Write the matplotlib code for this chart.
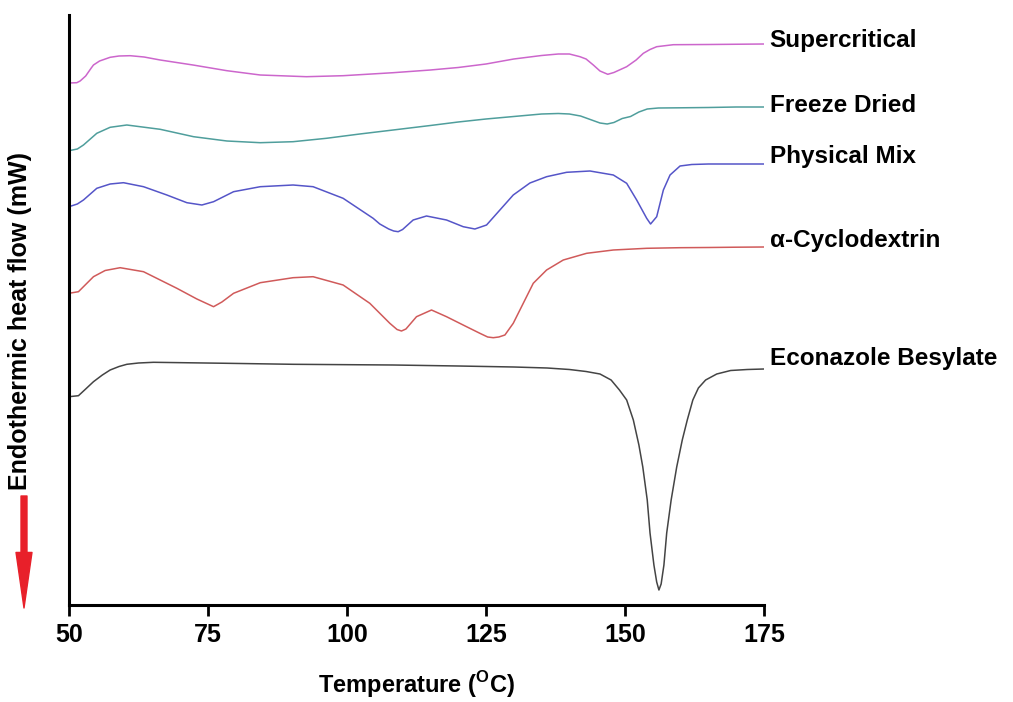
"""DSC thermograms of econazole besylate, alpha-cyclodextrin and their complexes."""
import matplotlib

matplotlib.use("Agg")
import matplotlib.pyplot as plt
from matplotlib import font_manager

# temperature (degC) / heat flow (arbitrary units, curves stacked with offsets)
t_sc = [50, 51.4, 52, 53, 54, 54.4, 55.5, 57.4, 59, 61, 63.5, 66.4, 72.3, 78.4, 84.4, 92.7,
        99.3, 108.3, 115, 120, 125, 130, 135, 138, 140, 141.9, 143, 144.3, 145.5, 146.9, 148,
        150.3, 152, 153.3, 154.5, 155.7, 158.7, 165, 175]
hf_sc = [522, 522.3, 524, 529, 537, 540, 544, 547.7, 549, 549.3, 548, 545, 540, 534.3, 530,
         528.3, 529.3, 532.3, 535, 537.5, 541, 546, 549.5, 551, 551, 548.3, 546, 540, 534,
         530.7, 532.5, 538.3, 545, 551.7, 555.5, 558.3, 560.3, 560.5, 561]

t_fd = [50, 51.5, 52.6, 55, 57.4, 60.4, 66.4, 72.4, 78.4, 84.4, 90.3, 96.3, 102.3, 108.3, 115,
        120, 125, 130, 135, 138, 140, 142, 144, 145.5, 146.8, 148, 149.5, 151, 152.5, 154,
        156, 160, 165, 170, 175]
hf_fd = [454.3, 456, 460, 471.7, 477.7, 480, 475.7, 468.3, 464, 462.3, 463.3, 466.7, 471, 475,
         479.5, 483, 486, 488.5, 491, 491.5, 491, 489, 485, 482, 481, 482.5, 486.5, 488.5,
         493, 496, 497, 497.2, 497.5, 498, 498]

t_pm = [50, 51.5, 52.6, 55, 57.4, 59.8, 63.4, 67.6, 71.2, 73.9, 76, 79.6, 84.4, 90.3, 93.9,
        99.3, 104.7, 105.9, 107.5, 108.4, 109.2, 110, 110.5, 111.9, 114.3, 117.9, 120.9, 123,
        125.1, 127.5, 129.9, 132.9, 135.9, 139.5, 143.7, 147.9, 150.3, 152.1, 153.9, 154.6,
        155.7, 156.9, 158.1, 159.9, 162, 165, 170, 175]
hf_pm = [398.3, 401, 405, 416.7, 421, 422.3, 418.3, 410, 402.3, 400, 403.3, 413.3, 418.3, 420,
         418.3, 406.7, 386.7, 381, 376, 374, 373.3, 375.5, 378, 385, 389, 385, 378.3, 376,
         380, 395, 410, 422, 428.3, 432.7, 434, 430, 421.7, 405, 386.7, 381, 388.3, 415, 430,
         439, 440.5, 441, 441, 441]

t_cd = [50, 51.7, 54.4, 56.5, 59.2, 63.4, 69.4, 73, 76, 77.5, 79.6, 84.4, 90.3, 93.9, 99.3,
        104.1, 105.9, 107.7, 109, 109.8, 110.6, 112.5, 115.2, 117.9, 121.5, 123.9, 125.3, 126.3,
        127.3, 128.4, 129.9, 131.7, 133.5, 135.9, 138.9, 143.1, 147.9, 153.9, 159.9, 165, 170,
        175]
hf_cd = [311.7, 313.3, 328.3, 334.5, 337.3, 333.3, 316.7, 306, 298.3, 303, 311.7, 322.3, 327.3,
         328.3, 320, 301.7, 291.7, 281.7, 275.5, 274, 276, 288.3, 295, 288.3, 278.3, 271.7,
         268, 267.3, 268, 270, 281.7, 301.7, 321.7, 335, 345, 351.7, 355, 356.7, 357.3, 357.5,
         357.8, 358]

t_eb = [50, 51.7, 53, 54.4, 56, 57.4, 59, 60.4, 62.5, 65.2, 78.4, 90.3, 108.3, 120, 130, 136,
        140, 143, 145.5, 147.5, 149, 150.3, 151.5, 152.5, 153.2, 154, 154.5, 155.2, 155.7,
        156.1, 156.5, 157, 157.5, 158.3, 159.3, 160.3, 161.2, 162.2, 163.2, 164.5, 166.5,
        169, 172, 175]
hf_eb = [208.3, 209.3, 216, 223.3, 230, 235, 238.5, 240.7, 242, 242.7, 241.7, 240.7, 240, 239,
         238, 237, 235.5, 233.5, 231, 225, 215, 205, 185, 160, 138, 105, 72, 40, 23, 15, 21,
         40, 72, 105, 138, 165, 185, 205, 217, 225, 231, 234.5, 235.5, 236]

labels = ["Supercritical", "Freeze Dried", "Physical Mix", "\u03b1-Cyclodextrin",
          "Econazole Besylate"]
colors = ["#cc66cc", "#4f9e9c", "#5555c8", "#d05a5a", "#444444"]
label_dy = [3, 1, 7, 7, 11]  # px above the curve end

names = {f.name for f in font_manager.fontManager.ttflist}
NARROW = "Liberation Sans Narrow" if "Liberation Sans Narrow" in names else "Liberation Sans"

plt.rcParams.update({
    "font.family": ["Liberation Sans", "DejaVu Sans"],
    "font.weight": "bold",
    "mathtext.fontset": "custom",
    "mathtext.rm": f"{NARROW}:bold",
})

fig = plt.figure(figsize=(10.13, 7.02), dpi=100)
ax = fig.add_axes([69 / 1013, 97 / 702, 695 / 1013, 590 / 702])

series = [(t_sc, hf_sc), (t_fd, hf_fd), (t_pm, hf_pm), (t_cd, hf_cd), (t_eb, hf_eb)]
for (t, hf), lab, c, dy in zip(series, labels, colors, label_dy):
    ax.plot(t, hf, color=c, lw=1.1, solid_joinstyle="round")
    ax.annotate(lab, xy=(t[-1], hf[-1]), xytext=(4, dy * 0.72), textcoords="offset points",
                fontsize=17.5, fontweight="bold", va="center", ha="left",
                annotation_clip=False)

ax.set_xlim(50, 175)
ax.set_ylim(0, 590)
ax.set_xticks([50, 75, 100, 125, 150, 175])
ax.set_yticks([])
for side in ("top", "right"):
    ax.spines[side].set_visible(False)
for side in ("left", "bottom"):
    ax.spines[side].set_linewidth(2.2)
ax.tick_params(axis="x", direction="out", length=8, width=2, pad=5)
for tl in ax.get_xticklabels():
    tl.set_fontfamily(NARROW)
    tl.set_fontsize(18)
    tl.set_fontweight("bold")

ax.set_xlabel("Temperature ($^{\\rm O}$C)", family=NARROW, fontsize=17, fontweight="bold",
              labelpad=16)
fig.text(20 / 1013, 0.543, "Endothermic heat flow (mW)", rotation=90, family=NARROW,
         fontsize=18, fontweight="bold", ha="center", va="center")

# red arrow marking the endotherm direction
ax.annotate("", xy=(24, 94), xycoords="figure pixels", xytext=(24, 206),
            textcoords="figure pixels",
            arrowprops=dict(arrowstyle="simple,head_length=4.0,head_width=1.15,tail_width=0.43",
                            color="#e8202a", shrinkA=0, shrinkB=0, mutation_scale=10))

fig.savefig("out.png", dpi=100)
